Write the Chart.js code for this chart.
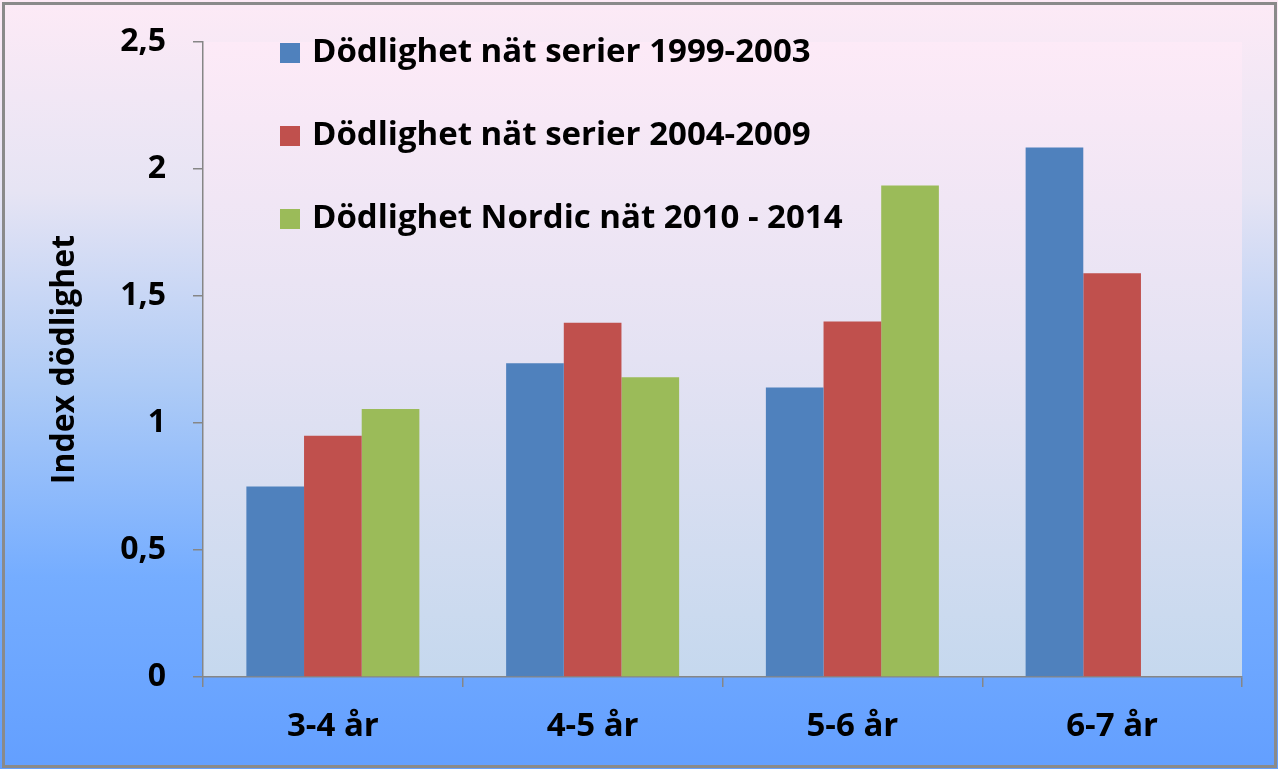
<!DOCTYPE html>
<html><head><meta charset="utf-8">
<script src="https://cdn.jsdelivr.net/npm/chart.js@4/dist/chart.umd.min.js"></script>
<style>html,body{margin:0;padding:0;background:#d8d4c8;}#wrap{width:1278px;height:769px;}</style>
</head><body><div id="wrap"><canvas id="c" width="1278" height="769"></canvas></div>
<script>
const categories = ["3-4 år", "4-5 år", "5-6 år", "6-7 år"];
const seriesNames = ["Dödlighet nät serier 1999-2003", "Dödlighet nät serier 2004-2009", "Dödlighet Nordic nät 2010 - 2014"];
const serie1999 = [0.75, 1.235, 1.14, 2.085];
const serie2004 = [0.95, 1.395, 1.40, 1.59];
const serieNordic = [1.055, 1.18, 1.935, null];
const seriesColors = ["#4f81bd", "#c0504d", "#9bbb59"];
const yTicks = [0, 0.5, 1, 1.5, 2, 2.5];
const yTitle = "Index dödlighet";
const FONT = "'Open Sans', Lato, sans-serif";

const bgPlugin = {
  id: 'bg',
  beforeDraw(chart) {
    const ctx = chart.ctx, w = chart.width, h = chart.height;
    ctx.save();
    let g = ctx.createLinearGradient(0, 0, 0, h);
    g.addColorStop(0, '#fdeaf6');
    g.addColorStop(0.25, '#e6e4f4');
    g.addColorStop(0.5, '#aecbf6');
    g.addColorStop(0.75, '#75adff');
    g.addColorStop(1, '#639fff');
    ctx.fillStyle = g;
    ctx.fillRect(0, 0, w, h);
    const a = chart.chartArea;
    g = ctx.createLinearGradient(0, a.top, 0, a.bottom);
    g.addColorStop(0, '#fdeaf7');
    g.addColorStop(0.5, '#e4e2f3');
    g.addColorStop(1, '#c5d8ee');
    ctx.fillStyle = g;
    ctx.fillRect(a.left, a.top, a.right - a.left, a.bottom - a.top);
    ctx.restore();
  },
  afterDraw(chart) {
    const ctx = chart.ctx;
    ctx.save();
    ctx.font = "bold 33px " + FONT;
    ctx.textBaseline = 'middle';
    ctx.textAlign = 'left';
    chart.data.datasets.forEach((ds, i) => {
      const y = 53 + i * 83;
      ctx.fillStyle = ds.backgroundColor;
      ctx.fillRect(280, y - 10, 20, 20);
      ctx.fillStyle = '#000';
      ctx.fillText(ds.label, 312, y);
    });
    ctx.strokeStyle = '#8a8a8a';
    ctx.lineWidth = 3;
    ctx.strokeRect(3.5, 3.5, chart.width - 6, chart.height - 6);
    ctx.restore();
  }
};

new Chart(document.getElementById('c'), {
  type: 'bar',
  data: {
    labels: categories,
    datasets: [
      { label: seriesNames[0], data: serie1999, backgroundColor: seriesColors[0] },
      { label: seriesNames[1], data: serie2004, backgroundColor: seriesColors[1] },
      { label: seriesNames[2], data: serieNordic, backgroundColor: seriesColors[2] }
    ]
  },
  options: {
    responsive: false,
    animation: false,
    layout: { padding: { left: 0, top: 42, right: 36, bottom: 0 } },
    datasets: { bar: { categoryPercentage: 0.666, barPercentage: 1.0 } },
    plugins: { legend: { display: false }, tooltip: { enabled: false } },
    scales: {
      x: {
        grid: { display: true, drawOnChartArea: false, offset: true, tickLength: 10, color: '#868686', lineWidth: 1.5 },
        border: { color: '#868686', width: 1.5 },
        ticks: { color: '#000', font: { family: FONT, size: 33, weight: 'bold' }, padding: 20 },
        afterFit(s) { s.height = 92; }
      },
      y: {
        min: 0, max: 2.5,
        afterBuildTicks(s) { s.ticks = yTicks.map(v => ({ value: v })); },
        grid: { display: true, drawOnChartArea: false, tickLength: 10, color: '#868686', lineWidth: 1.5 },
        border: { color: '#868686', width: 1.5 },
        ticks: { color: '#000', font: { family: FONT, size: 32, weight: 'bold' }, padding: 27,
          callback: v => String(v).replace('.', ',') },
        title: { display: true, text: yTitle, color: '#000', font: { family: FONT, size: 32, weight: 'bold' }, padding: { top: 46, bottom: 0 } },
        afterFit(s) { s.width = 203; s.paddingTop = 0; s.paddingBottom = 0; }
      }
    }
  },
  plugins: [bgPlugin]
});
</script>
</body></html>
